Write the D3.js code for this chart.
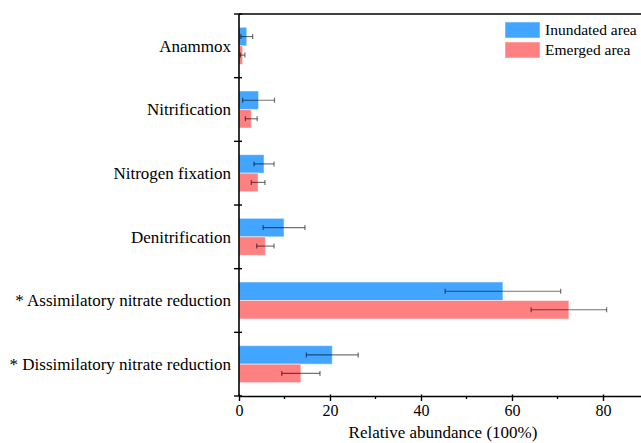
<!DOCTYPE html>
<html>
<head>
<meta charset="utf-8">
<script src="https://cdn.jsdelivr.net/npm/d3@7"></script>
<style>
  html, body { margin: 0; padding: 0; background: #fff; }
  svg { display: block; }
</style>
</head>
<body>
<svg id="chart" width="641" height="443"></svg>
<script>
// Nitrogen-cycle functional groups, top to bottom
const categories = [
  "Anammox",
  "Nitrification",
  "Nitrogen fixation",
  "Denitrification",
  "* Assimilatory nitrate reduction",
  "* Dissimilatory nitrate reduction"
];
const seriesNames = ["Inundated area", "Emerged area"];
const inundatedMean = [1.7, 4.3, 5.5, 9.9, 58.0, 20.5];
const inundatedErr  = [1.3, 3.5, 2.2, 4.6, 12.7, 5.7];
const emergedMean   = [0.8, 2.7, 4.2, 5.8, 72.5, 13.6];
const emergedErr    = [0.5, 1.3, 1.5, 1.9, 8.3, 4.2];
const xTicks = [0, 20, 40, 60, 80];
const xMinorTicks = [10, 30, 50, 70];

const colors = { "Inundated area": "#42a5ff", "Emerged area": "#ff8080" };
const labelFont = '"Liberation Serif"';

const rows = categories.map((c, i) => ({
  category: c,
  values: [
    { series: seriesNames[0], mean: inundatedMean[i], err: inundatedErr[i] },
    { series: seriesNames[1], mean: emergedMean[i], err: emergedErr[i] }
  ]
}));

const svg = d3.select("#chart");
const plotLeft = 239, plotTop = 14, plotBottom = 396;

const x = d3.scaleLinear().domain([0, 90]).range([plotLeft, plotLeft + 90 * 4.55]);
const y = d3.scaleBand().domain(categories).range([plotTop, plotBottom]).padding(0);
const ySub = d3.scaleBand().domain(seriesNames).range([0, y.bandwidth()])
  .paddingInner(0).paddingOuter(0.72);

// bars
const groups = svg.append("g").selectAll("g").data(rows).join("g")
  .attr("transform", d => `translate(0,${y(d.category)})`);

groups.selectAll("rect").data(d => d.values).join("rect")
  .attr("x", x(0))
  .attr("y", d => ySub(d.series))
  .attr("width", d => x(d.mean) - x(0))
  .attr("height", ySub.bandwidth())
  .attr("fill", d => colors[d.series])
  .attr("stroke", "#ffffff")
  .attr("stroke-opacity", 0.5)
  .attr("stroke-width", 1);

// error bars
const eb = groups.selectAll("g.err").data(d => d.values).join("g")
  .attr("class", "err")
  .attr("transform", d => `translate(0,${ySub(d.series) + ySub.bandwidth() / 2})`)
  .attr("stroke", "#000")
  .attr("stroke-opacity", 0.55)
  .attr("stroke-width", 1.2);
eb.append("line")
  .attr("x1", d => x(d.mean - d.err)).attr("x2", d => x(d.mean + d.err))
  .attr("y1", 0).attr("y2", 0);
eb.append("line")
  .attr("x1", d => x(d.mean - d.err)).attr("x2", d => x(d.mean - d.err))
  .attr("y1", -2.5).attr("y2", 2.5);
eb.append("line")
  .attr("x1", d => x(d.mean + d.err)).attr("x2", d => x(d.mean + d.err))
  .attr("y1", -2.5).attr("y2", 2.5);

// x axis
const xAxis = d3.axisBottom(x).tickValues(xTicks).tickSize(5).tickSizeOuter(0).tickPadding(4);
const gx = svg.append("g").attr("transform", `translate(0,${plotBottom})`).call(xAxis);
gx.attr("font-family", null).attr("font-size", null);
gx.select(".domain").attr("stroke", "#000").attr("stroke-width", 1.6);
gx.selectAll(".tick line").attr("stroke", "#000").attr("stroke-width", 1.4).attr("y1", -1.5);
gx.selectAll(".tick text").attr("fill", "#000").style("font-size", "16px").style("font-family", labelFont);
svg.append("g").selectAll("line").data(xMinorTicks).join("line")
  .attr("x1", d => x(d)).attr("x2", d => x(d))
  .attr("y1", plotBottom).attr("y2", plotBottom + 3)
  .attr("stroke", "#000").attr("stroke-width", 1.3);

// top frame line
svg.append("line")
  .attr("x1", plotLeft).attr("x2", x(90)).attr("y1", plotTop).attr("y2", plotTop)
  .attr("stroke", "#000").attr("stroke-width", 1.6);

// y axis with ticks at band boundaries
svg.append("line")
  .attr("x1", plotLeft).attr("x2", plotLeft).attr("y1", plotTop).attr("y2", plotBottom)
  .attr("stroke", "#000").attr("stroke-width", 1.6);
const boundaries = categories.map(c => y(c)).concat([plotBottom]);
svg.append("g").selectAll("line").data(boundaries).join("line")
  .attr("x1", plotLeft - 5).attr("x2", plotLeft + 3)
  .attr("y1", d => d).attr("y2", d => d)
  .attr("stroke", "#000").attr("stroke-width", 1.4);

// category labels
svg.append("g").selectAll("text").data(categories).join("text")
  .attr("x", 231)
  .attr("y", c => y(c) + y.bandwidth() / 2)
  .attr("dy", "0.35em")
  .attr("text-anchor", "end")
  .style("font-family", labelFont)
  .style("font-size", "17px")
  .text(c => c);

// x axis title
svg.append("text")
  .attr("x", 443).attr("y", 438)
  .attr("text-anchor", "middle")
  .style("font-family", labelFont)
  .style("font-size", "17px")
  .text("Relative abundance (100%)");

// legend
const legend = svg.append("g").selectAll("g").data(seriesNames).join("g")
  .attr("transform", (d, i) => `translate(505,${22 + i * 20})`);
legend.append("rect")
  .attr("width", 35).attr("height", 16)
  .attr("fill", d => colors[d])
  .attr("stroke", "#ffffff").attr("stroke-opacity", 0.5);
legend.append("text")
  .attr("x", 40).attr("y", 8).attr("dy", "0.35em")
  .style("font-family", labelFont)
  .style("font-size", "15.5px")
  .text(d => d);
</script>
</body>
</html>
